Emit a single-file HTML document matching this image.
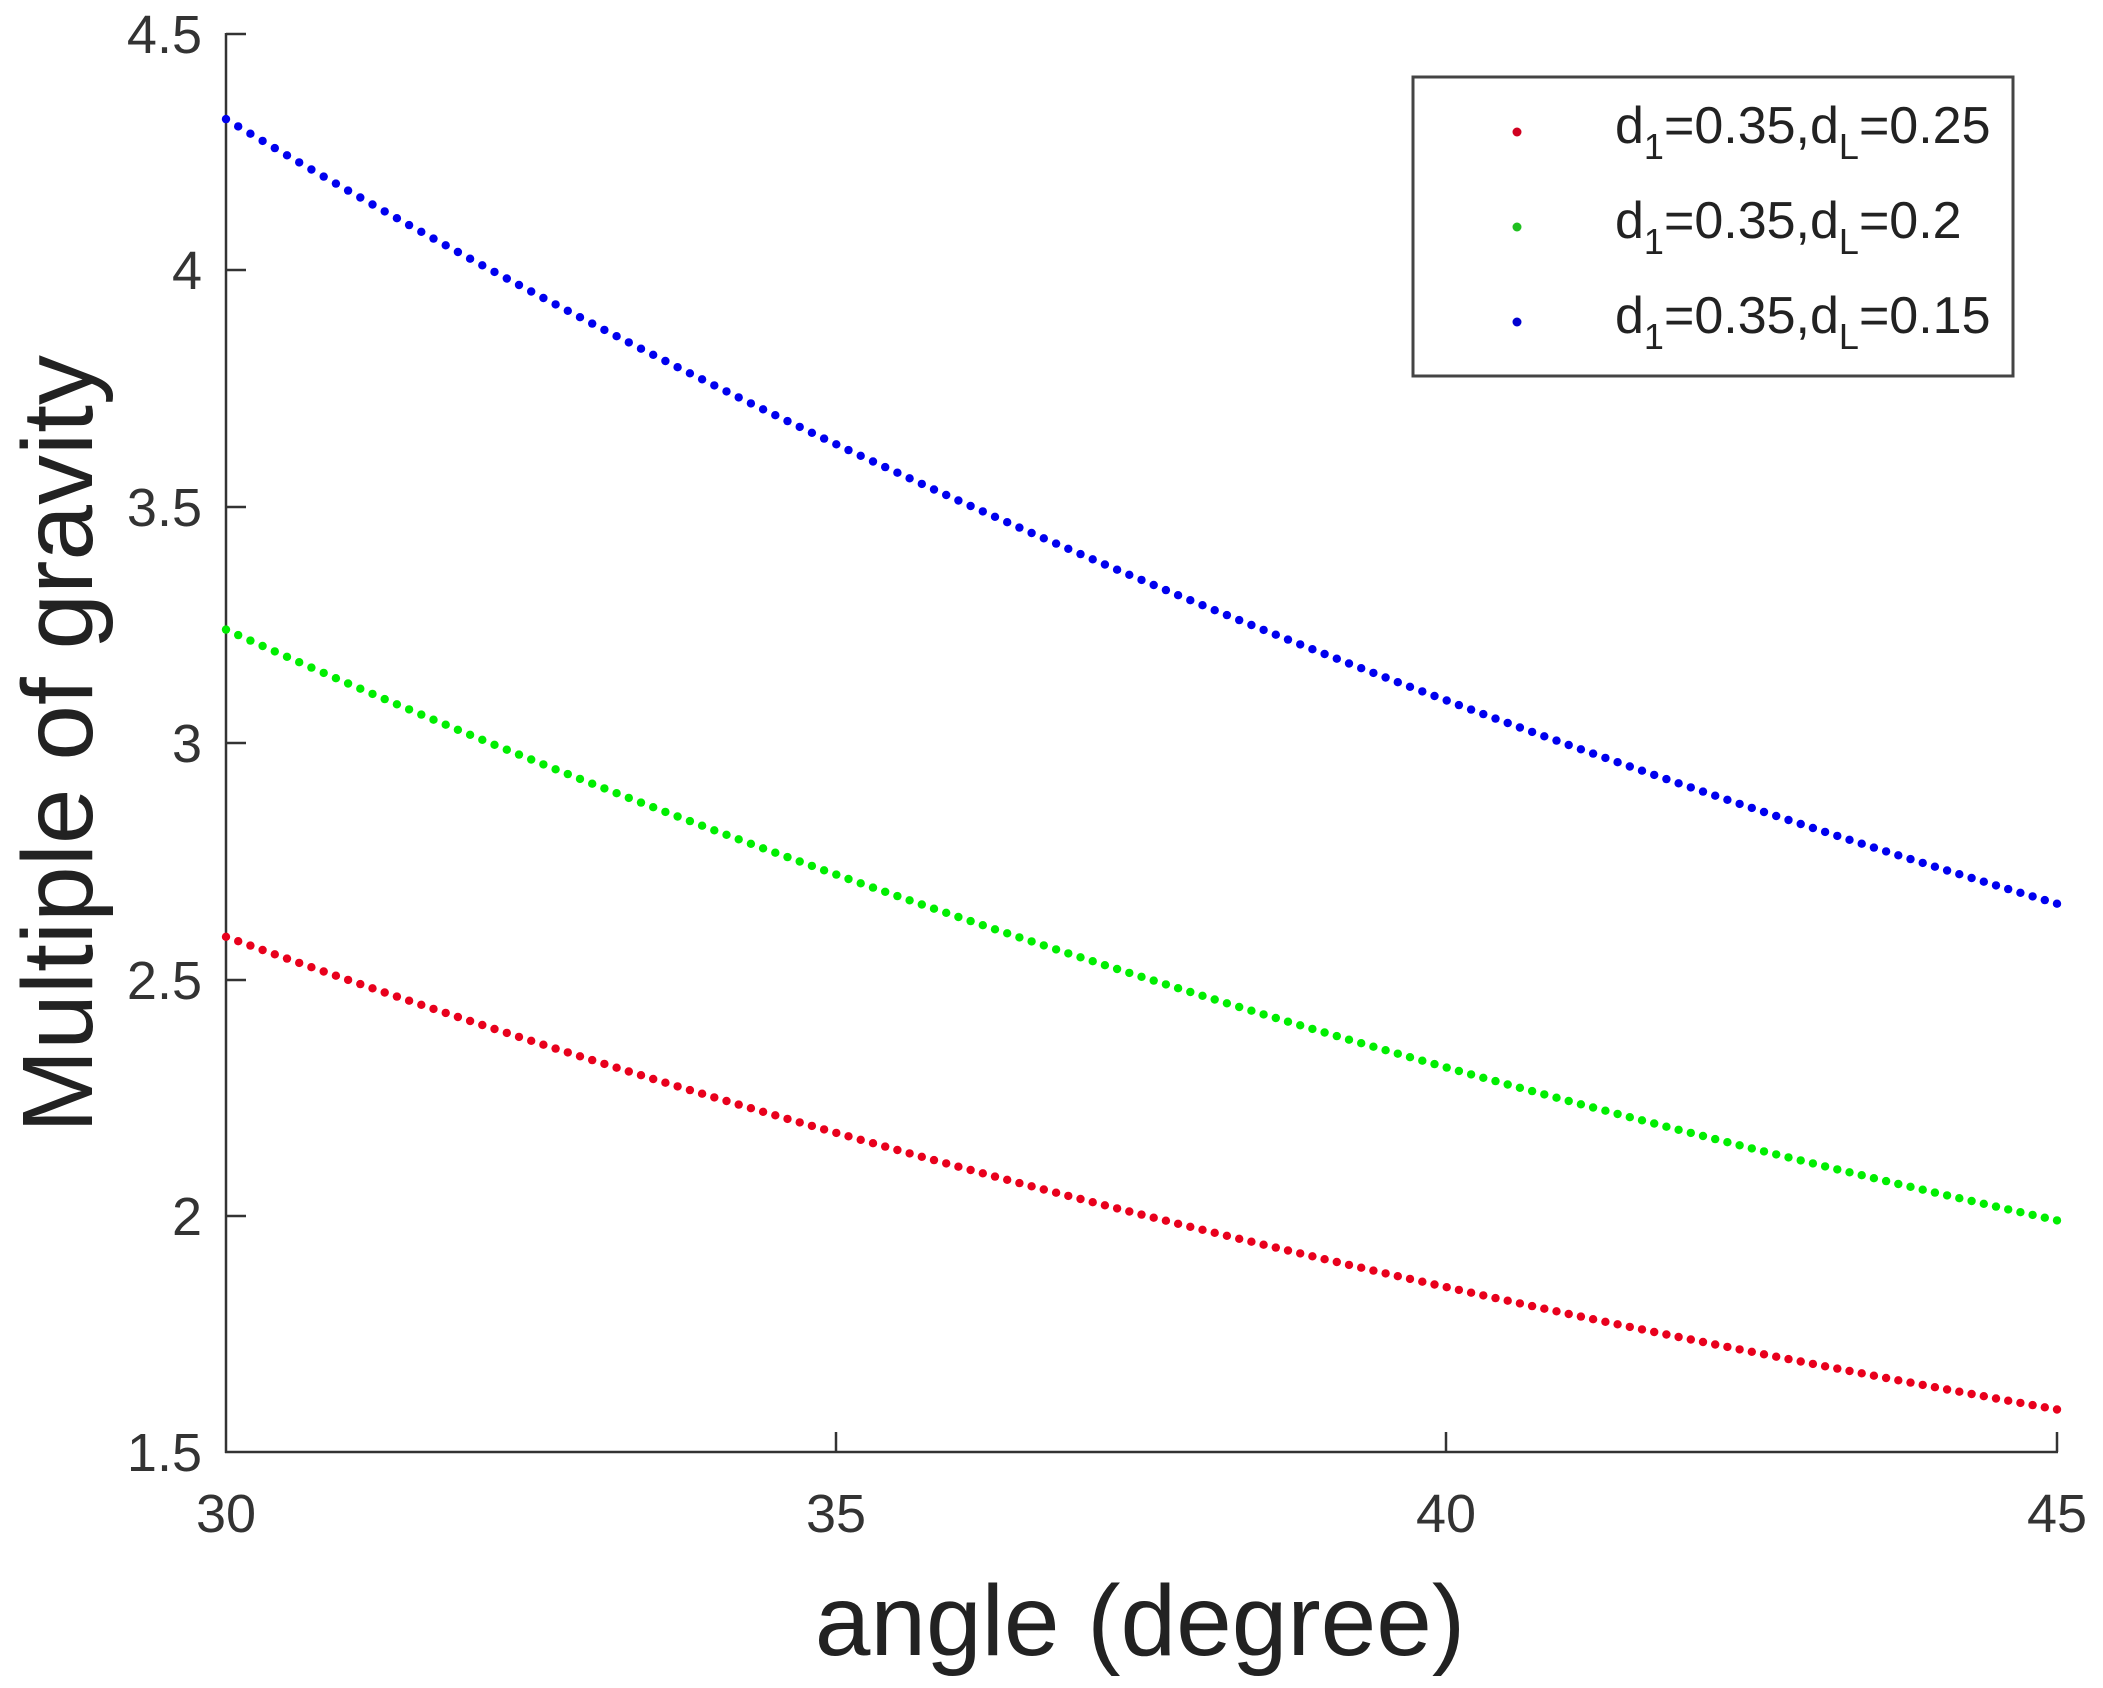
<!DOCTYPE html>
<html><head><meta charset="utf-8"><style>
html,body{margin:0;padding:0;background:#fff;}
svg{display:block;font-family:"Liberation Sans",Arial,sans-serif;}
</style></head><body>
<svg id="s" width="2103" height="1688" viewBox="0 0 2103 1688" xmlns="http://www.w3.org/2000/svg">
<rect width="2103" height="1688" fill="#fff"/>
<g stroke="#333" stroke-width="2.5" fill="none">
<line x1="226" y1="33" x2="226" y2="1453"/>
<line x1="225" y1="1452" x2="2058" y2="1452"/>
<line x1="226" y1="34" x2="246" y2="34"/>
<line x1="226" y1="270" x2="246" y2="270"/>
<line x1="226" y1="507" x2="246" y2="507"/>
<line x1="226" y1="743" x2="246" y2="743"/>
<line x1="226" y1="980" x2="246" y2="980"/>
<line x1="226" y1="1216" x2="246" y2="1216"/>
<line x1="836" y1="1452" x2="836" y2="1432"/>
<line x1="1446" y1="1452" x2="1446" y2="1432"/>
<line x1="2057" y1="1452" x2="2057" y2="1432"/>
</g>
<g fill="#333" font-size="54" text-anchor="end">
<text x="202" y="53">4.5</text>
<text x="202" y="289">4</text>
<text x="202" y="526">3.5</text>
<text x="202" y="762">3</text>
<text x="202" y="999">2.5</text>
<text x="202" y="1235">2</text>
<text x="202" y="1471">1.5</text>
</g>
<g fill="#333" font-size="54" text-anchor="middle">
<text x="226" y="1532">30</text>
<text x="836" y="1532">35</text>
<text x="1446" y="1532">40</text>
<text x="2057" y="1532">45</text>
</g>
<text x="1140" y="1655" font-size="100" text-anchor="middle" fill="#222">angle (degree)</text>
<text transform="translate(92,744) rotate(-90)" font-size="100" text-anchor="middle" fill="#222">Multiple of gravity</text>
<g id="pts"></g>
<rect x="1413" y="77" width="600" height="299" fill="#fff" stroke="#444" stroke-width="3"/>
<circle cx="1517" cy="132" r="4.5" fill="#d00020"/>
<circle cx="1517" cy="227" r="4.5" fill="#20c020"/>
<circle cx="1517" cy="322" r="4.5" fill="#0000d0"/>
<g fill="#222" font-size="52">
<text x="1615" y="143">d<tspan font-size="36" dy="16">1</tspan><tspan dy="-16">=0.35,d</tspan><tspan font-size="36" dy="16">L</tspan><tspan dy="-16">=0.25</tspan></text>
<text x="1615" y="238">d<tspan font-size="36" dy="16">1</tspan><tspan dy="-16">=0.35,d</tspan><tspan font-size="36" dy="16">L</tspan><tspan dy="-16">=0.2</tspan></text>
<text x="1615" y="333">d<tspan font-size="36" dy="16">1</tspan><tspan dy="-16">=0.35,d</tspan><tspan font-size="36" dy="16">L</tspan><tspan dy="-16">=0.15</tspan></text>
</g>
</svg>
<script>
(function(){
var g=document.getElementById('pts'),h='';
var series=[[2.59,1.59,'#e8001c'],[3.24,1.99,'#00ee00'],[4.32,2.66,'#0000ee']];
function X(a){return 226+(a-30)*(2057-226)/15;}
function Y(v){return 1452-(v-1.5)*(1452-34)/3;}
series.forEach(function(s){
 var L=Math.log(s[1]/s[0]);
 for(var i=0;i<=150;i++){
  var t=i/150,gg=1.11*t-0.11*t*t;
  var v=s[0]*Math.exp(L*gg);
  h+='<circle cx="'+X(30+15*t).toFixed(1)+'" cy="'+Y(v).toFixed(1)+'" r="4.2" fill="'+s[2]+'"/>';
 }
});
g.innerHTML=h;
})();
</script>
</body></html>
